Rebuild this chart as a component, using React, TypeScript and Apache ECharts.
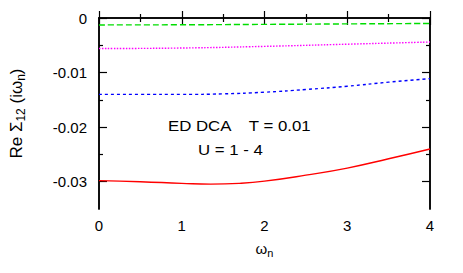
import React, { useEffect, useRef } from "react";
import * as echarts from "echarts";

const xRed = [0, 0.5, 1, 1.35, 1.7, 2, 2.5, 3, 3.5, 4];
const red = [-0.0298, -0.03, -0.0303, -0.03045, -0.0303, -0.0299, -0.0288, -0.0275, -0.0258, -0.024];
const xBlue = [0, 0.5, 1, 1.5, 2, 2.5, 3, 3.5, 4];
const blue = [-0.014, -0.014, -0.014, -0.0139, -0.0136, -0.0131, -0.0125, -0.01176, -0.0111];
const xMag = [0, 1, 2, 3, 4];
const magenta = [-0.0056, -0.0055, -0.0052, -0.0048, -0.0044];
const xGreen = [0, 1, 2, 3, 4];
const green = [-0.00127, -0.00124, -0.00117, -0.00108, -0.001];
const yMajor = [0, -0.01, -0.02, -0.03];
const yMinor = [-0.005, -0.015, -0.025];
const yTickLabels = ["0", "-0.01", "-0.02", "-0.03"];

const FONT = "Liberation Sans, Arial, sans-serif";

export default function App() {
  const ref = useRef<HTMLDivElement>(null);
  useEffect(() => {
    const chart = echarts.init(ref.current!, null, { renderer: "svg" });
    const zip = (xs: number[], ys: number[]) => xs.map((x, i) => [x, ys[i]]);
    const line = { show: true, lineStyle: { color: "#000", width: 1.5 } };
    const tickStyle = { color: "#000", width: 1.2 };
    const xCommon = {
      type: "value" as const,
      min: 0,
      max: 4,
      interval: 1,
      axisLine: line,
      axisTick: { show: true, inside: true, length: 7, lineStyle: tickStyle },
      minorTick: { show: true, splitNumber: 2, length: 4, lineStyle: tickStyle },
      splitLine: { show: false },
    };
    const yAxisOf = (pos: string, major: boolean, labels: boolean) => ({
      type: "value" as const,
      position: pos,
      min: -0.035,
      max: 0,
      axisLine: line,
      axisTick: {
        show: true,
        inside: true,
        length: major ? 8 : 4,
        lineStyle: tickStyle,
        customValues: major ? yMajor : yMinor,
      },
      splitLine: { show: false },
      axisLabel: labels
        ? {
            show: true,
            color: "#000",
            fontFamily: FONT,
            fontSize: 15,
            margin: 12,
            customValues: yMajor,
            formatter: (v: number) => {
              const i = yMajor.findIndex((m) => Math.abs(m - v) < 1e-9);
              return i >= 0 ? yTickLabels[i] : "";
            },
          }
        : { show: false },
    });
    const richX = {
      a: { fontFamily: FONT, fontSize: 15, color: "#000" },
      s: { fontFamily: FONT, fontSize: 11, color: "#000", padding: [8, 0, 0, 0] },
    };
    const richY = {
      a: { fontFamily: FONT, fontSize: 17, color: "#000" },
      s: { fontFamily: FONT, fontSize: 12, color: "#000", padding: [9, 0, 0, 0] },
    };
    chart.setOption({
      animation: false,
      grid: { left: 99, right: 33, top: 18, bottom: 64, outerBoundsMode: "none", containLabel: false },
      xAxis: [
        {
          ...xCommon,
          position: "bottom",
          axisLabel: { color: "#000", fontFamily: FONT, fontSize: 15, margin: 9 },
          name: "{a|ω}{s|n}",
          nameLocation: "middle",
          nameGap: 30,
          nameTextStyle: { rich: richX },
        },
        { ...xCommon, position: "top", axisLabel: { show: false } },
      ],
      yAxis: [
        {
          ...yAxisOf("left", true, true),
          name: "{a|Re Σ}{s|12}{a| (iω}{s|n}{a|)}",
          nameLocation: "middle",
          nameGap: 72,
          nameRotate: 90,
          nameTextStyle: { rich: richY },
        },
        yAxisOf("left", false, false),
        yAxisOf("right", true, false),
        yAxisOf("right", false, false),
      ],
      graphic: [
        {
          type: "text",
          x: 168,
          y: 119,
          scaleX: 1.2,
          style: { text: "ED DCA    T = 0.01", font: `14px ${FONT}`, fill: "#000" },
        },
        {
          type: "text",
          x: 198,
          y: 143,
          scaleX: 1.2,
          style: { text: "U = 1 - 4", font: `14px ${FONT}`, fill: "#000" },
        },
      ],
      series: [
        {
          type: "line",
          data: zip(xRed, red),
          smooth: true,
          showSymbol: false,
          lineStyle: { color: "#ff0000", width: 1.4 },
        },
        {
          type: "line",
          data: zip(xBlue, blue),
          smooth: true,
          showSymbol: false,
          lineStyle: { color: "#0000ff", width: 1.4, type: [3, 3] },
        },
        {
          type: "line",
          data: zip(xMag, magenta),
          smooth: true,
          showSymbol: false,
          lineStyle: { color: "#ff00ff", width: 1.4, type: [1.5, 1.5] },
        },
        {
          type: "line",
          data: zip(xGreen, green),
          smooth: true,
          showSymbol: false,
          lineStyle: { color: "#00dd00", width: 1.4, type: [6, 3] },
        },
      ],
    });
    return () => chart.dispose();
  }, []);
  return <div ref={ref} style={{ width: 463, height: 273, margin: -8 }} />;
}
